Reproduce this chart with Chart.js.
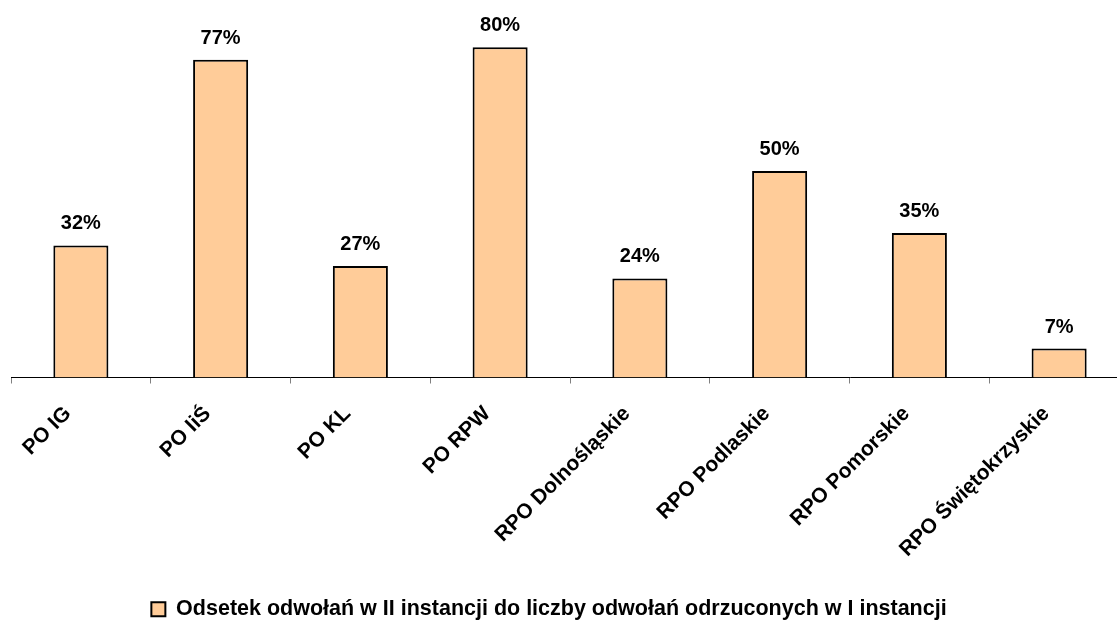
<!DOCTYPE html>
<html>
<head>
<meta charset="utf-8">
<script src="https://cdn.jsdelivr.net/npm/chart.js@4/dist/chart.umd.min.js"></script>
<style>
  html, body { margin: 0; padding: 0; background: #fff; overflow: hidden; }
  #wrap { width: 1117px; height: 621px; overflow: hidden; }
</style>
</head>
<body>
<div id="wrap"><canvas id="chart" width="1129" height="621"></canvas></div>
<script>
var categories = ["PO IG", "PO IiŚ", "PO KL", "PO RPW", "RPO Dolnośląskie", "RPO Podlaskie", "RPO Pomorskie", "RPO Świętokrzyskie"];
var seriesName = "Odsetek odwołań w II instancji do liczby odwołań odrzuconych w I instancji";
var values = [32, 77, 27, 80, 24, 50, 35, 7];

var FONT = "'Liberation Sans', Arial, sans-serif";

// labels above bars
var valueLabels = {
	id: 'valueLabels',
	afterDatasetsDraw: function(chart){
		var ctx = chart.ctx;
		var meta = chart.getDatasetMeta(0);
		ctx.save();
		ctx.font = "bold 20px " + FONT;
		ctx.fillStyle = "#000";
		ctx.textAlign = "center";
		ctx.textBaseline = "alphabetic";
		meta.data.forEach(function(bar, i){
			ctx.fillText(values[i] + "%", bar.x, bar.y - 16);
		});
		ctx.restore();
	}
};

// nudge legend to where the original sits
var legendShift = {
	id: 'legendShift',
	afterLayout: function(chart){
		chart.legend.left -= 21;
		chart.legend.right -= 21;
		chart.legend.top += 9;
		chart.legend.bottom += 9;
	}
};

var canvas = document.getElementById('chart').getContext('2d');
window.bar = new Chart(canvas, {
	type: "bar",
	data: {
		labels: categories,
		datasets: [{
			label: seriesName,
			data: values,
			backgroundColor: "#FFCC99",
			borderColor: "#000",
			borderWidth: 2,
			borderSkipped: "bottom",
			barPercentage: 1,
			categoryPercentage: 0.394
		}]
	},
	options: {
		responsive: false,
		animation: false,
		layout: { padding: { left: 11, right: 0, top: 6, bottom: 0 } },
		scales: {
			x: {
				offset: true,
				grid: {
					offset: true,
					drawOnChartArea: false,
					drawTicks: true,
					tickLength: 6,
					color: "#808080"
				},
				border: { display: true, color: "#000", width: 1 },
				ticks: {
					minRotation: 45,
					maxRotation: 45,
					color: "#000",
					padding: 18,
					labelOffset: -13,
					font: { family: FONT, size: 21, weight: "bold" }
				},
				afterFit: function(s){ s.height = 211; }
			},
			y: {
				display: false,
				min: 0,
				max: 90
			}
		},
		plugins: {
			legend: {
				position: "bottom",
				labels: {
					color: "#000",
					boxWidth: 14,
					boxHeight: 14,
					padding: 1,
					font: { family: FONT, size: 21.5, weight: "bold" }
				}
			},
			tooltip: { enabled: false }
		}
	},
	plugins: [valueLabels, legendShift]
});
</script>
</body>
</html>
